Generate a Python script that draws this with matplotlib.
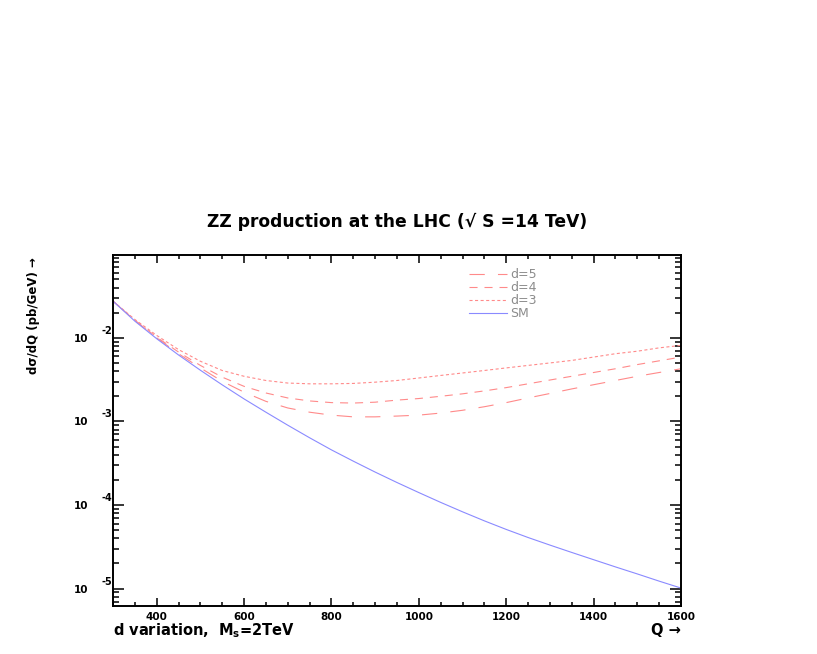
import matplotlib
matplotlib.use('Agg')
import matplotlib.pyplot as plt
from matplotlib.ticker import MultipleLocator, LogLocator, FuncFormatter, NullFormatter
from matplotlib.transforms import blended_transform_factory, offset_copy

plt.rcParams['font.family'] = ['DejaVu Sans']
plt.rcParams['mathtext.fontset'] = 'dejavusans'
plt.rcParams['lines.scale_dashes'] = False

# invariant mass Q (GeV)
Q = [300, 350, 400, 450, 500, 550, 600, 650, 700, 750, 800, 850, 900, 950,
     1000, 1050, 1100, 1150, 1200, 1250, 1300, 1350, 1400, 1450, 1500, 1550, 1600]

# d sigma / dQ (pb/GeV)
sm = [2.75e-2, 1.585e-2, 9.77e-3, 6.24e-3, 4.10e-3, 2.74e-3, 1.86e-3, 1.29e-3, 9.02e-4,
      6.38e-4, 4.57e-4, 3.35e-4, 2.48e-4, 1.86e-4, 1.41e-4, 1.076e-4, 8.30e-5, 6.47e-5,
      5.11e-5, 4.09e-5, 3.32e-5, 2.71e-5, 2.22e-5, 1.82e-5, 1.50e-5, 1.23e-5, 1.016e-5]
d3 = [2.75e-2, 1.66e-2, 1.07e-2, 7.24e-3, 5.25e-3, 4.07e-3, 3.47e-3, 3.09e-3, 2.88e-3,
      2.82e-3, 2.82e-3, 2.85e-3, 2.95e-3, 3.09e-3, 3.31e-3, 3.55e-3, 3.80e-3, 4.07e-3,
      4.37e-3, 4.68e-3, 5.01e-3, 5.37e-3, 5.89e-3, 6.46e-3, 6.92e-3, 7.59e-3, 8.13e-3]
d4 = [2.75e-2, 1.62e-2, 1.02e-2, 6.76e-3, 4.68e-3, 3.39e-3, 2.63e-3, 2.19e-3, 1.91e-3,
      1.76e-3, 1.68e-3, 1.66e-3, 1.70e-3, 1.80e-3, 1.88e-3, 2.00e-3, 2.14e-3, 2.32e-3,
      2.54e-3, 2.82e-3, 3.13e-3, 3.47e-3, 3.85e-3, 4.27e-3, 4.79e-3, 5.31e-3, 5.89e-3]
d5 = [2.75e-2, 1.62e-2, 1.00e-2, 6.46e-3, 4.37e-3, 3.02e-3, 2.24e-3, 1.74e-3, 1.45e-3,
      1.29e-3, 1.19e-3, 1.135e-3, 1.135e-3, 1.16e-3, 1.19e-3, 1.26e-3, 1.36e-3, 1.50e-3,
      1.68e-3, 1.91e-3, 2.16e-3, 2.45e-3, 2.75e-3, 3.09e-3, 3.47e-3, 3.85e-3, 4.27e-3]

exponents = [-2, -3, -4, -5]

fig = plt.figure(figsize=(8.17, 6.54), dpi=100)
ax = fig.add_axes([0.1383, 0.0734, 0.6952, 0.5367])

red = '#ff8a8a'
blue = '#8a8aff'
l5, = ax.plot(Q, d5, color=red, lw=0.8, dashes=(11, 9.5), label='d=5')
l4, = ax.plot(Q, d4, color=red, lw=0.8, dashes=(5.8, 5), label='d=4')
l3, = ax.plot(Q, d3, color=red, lw=0.8, dashes=(2.2, 1.8), label='d=3')
lsm, = ax.plot(Q, sm, color=blue, lw=0.8, label='SM')

ax.set_yscale('log')
ax.set_xlim(300, 1600)
ax.set_ylim(6.2e-6, 0.098)

ax.xaxis.set_major_locator(MultipleLocator(200))
ax.xaxis.set_minor_locator(MultipleLocator(50))
ax.yaxis.set_major_locator(LogLocator(base=10))
ax.yaxis.set_minor_locator(LogLocator(base=10, subs=range(2, 10)))
ax.yaxis.set_major_formatter(FuncFormatter(lambda v, p: '10'))
ax.yaxis.set_minor_formatter(NullFormatter())

for s in ax.spines.values():
    s.set_linewidth(1.4)
ax.tick_params(which='both', direction='in', top=True, right=True, width=1.1)
ax.tick_params(axis='x', which='major', length=5.5, pad=4, labelsize=7.5)
ax.tick_params(axis='x', which='minor', length=3)
ax.tick_params(axis='y', which='major', length=8, pad=18, labelsize=7.5)
ax.tick_params(axis='y', which='minor', length=4.5)
for lab in ax.get_xticklabels() + ax.get_yticklabels():
    lab.set_fontweight('bold')

# exponents of the y labels, ROOT style
tr = offset_copy(blended_transform_factory(ax.transAxes, ax.transData), fig=fig, x=0, y=4, units='dots')
for e in exponents:
    ax.text(-0.002, 10.0 ** e, str(e), transform=tr, ha='right', va='baseline',
            fontsize=7, fontweight='bold')

ax.legend(handles=[l5, l4, l3, lsm], loc='upper left', bbox_to_anchor=(0.627, 0.963),
          frameon=False, fontsize=9, labelcolor='#8c8c8c', handlelength=3.05,
          handletextpad=0.24, labelspacing=0.0, borderpad=0, borderaxespad=0)

fig.text(0.486, 1 - 222 / 654, 'ZZ production at the LHC (\u221a S =14 TeV)',
         ha='center', va='center', fontsize=12.3, fontweight='bold')
fig.text(33 / 817, 1 - 257 / 654, 'd\u03c3/dQ (pb/GeV) \u2192', rotation=90,
         ha='center', va='top', fontsize=8.5, fontweight='bold')
fig.text(113 / 817, 1 - 635 / 654, r'd variation,  $\mathbf{M_s}$=2TeV',
         ha='left', va='baseline', fontsize=10.5, fontweight='bold')
fig.text(681 / 817, 1 - 635 / 654, 'Q \u2192',
         ha='right', va='baseline', fontsize=10.5, fontweight='bold')

fig.savefig('out.png', dpi=100)
